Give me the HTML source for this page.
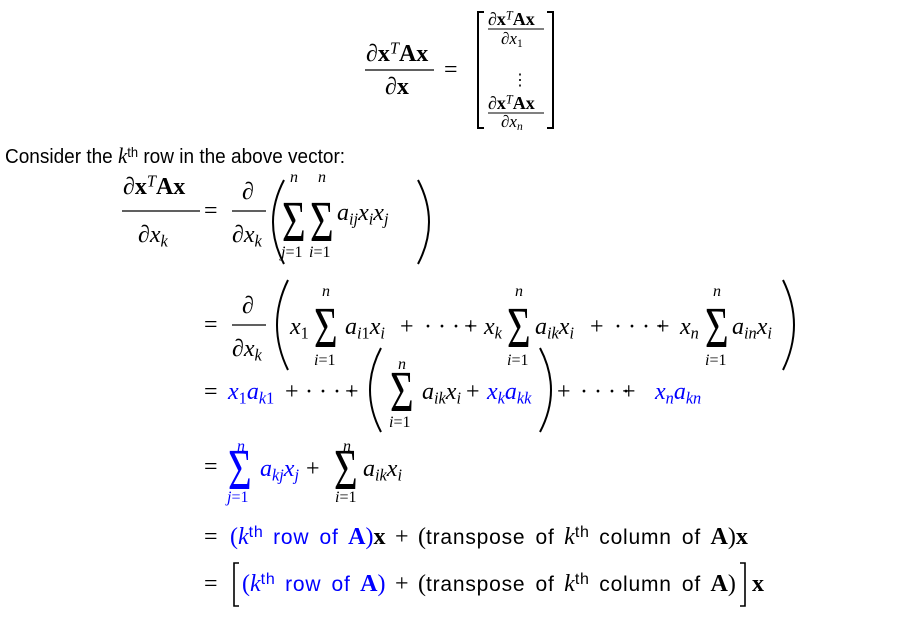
<!DOCTYPE html>
<html><head><meta charset="utf-8"><style>
body{margin:0;background:#fff;}
#page{position:relative;width:922px;height:618px;overflow:hidden;background:#fff;font-family:"Liberation Serif",serif;color:#000;}
.a{position:absolute;line-height:1;white-space:nowrap;top:calc(var(--b) - 0.84em);font-size:24px;}
.i{font-style:italic;}
.bf{font-weight:bold;font-style:normal;}
.s{font-family:"Liberation Sans","DejaVu Sans",sans-serif;font-size:21px;font-style:normal;letter-spacing:0.8px;}
.bl{color:#0000ff;}
sub,sup{font-size:0.68em;line-height:0;}
sub{vertical-align:-0.28em;}
sup{vertical-align:0.45em;}
.sig{font-size:58px;transform:scaleX(0.7);transform-origin:left center;}
.lim{font-size:16px;font-style:italic;}
.th{font-family:"Liberation Sans",sans-serif;font-size:16px;letter-spacing:0.8px;font-style:normal;}
.flow{word-spacing:3.5px;}
svg{position:absolute;left:0;top:0;}
</style></head><body>
<div id="page">
<svg width="922" height="618" fill="none" stroke="#000">
 <line x1="365" y1="70" x2="434" y2="70" stroke-width="1.3"/>
 <path d="M484 12 H478 V128 H484" stroke-width="2"/>
 <path d="M547 12 H553 V128 H547" stroke-width="2"/>
 <line x1="488" y1="29" x2="544" y2="29" stroke-width="1"/>
 <line x1="488" y1="113" x2="544" y2="113" stroke-width="1"/>
 <line x1="122" y1="211" x2="200" y2="211" stroke-width="1.3"/>
 <line x1="232" y1="211" x2="266" y2="211" stroke-width="1.3"/>
 <path d="M284 180 Q262 222 284 264" stroke-width="2"/>
 <path d="M418 180 Q440 222 418 264" stroke-width="2"/>
 <line x1="232" y1="325" x2="266" y2="325" stroke-width="1.3"/>
 <path d="M288 280 Q266 325 288 370" stroke-width="2"/>
 <path d="M783 280 Q805 325 783 370" stroke-width="2"/>
 <path d="M381 348 Q359 390 381 432" stroke-width="2"/>
 <path d="M540 348 Q562 390 540 432" stroke-width="2"/>
 <path d="M239 563 H234 V606 H239" stroke-width="1.6"/>
 <path d="M740 563 H745 V606 H740" stroke-width="1.6"/>
</svg>

<!-- top equation -->
<div class="a" style="left:366px;--b:62px">∂<span class="bf">x</span><sup class="i">T</sup><span class="bf">Ax</span></div>
<div class="a" style="left:385px;--b:95px">∂<span class="bf">x</span></div>
<div class="a" style="left:444px;--b:78px">=</div>
<div class="a" style="left:488px;--b:25px;font-size:18px">∂<span class="bf">x</span><sup class="i">T</sup><span class="bf">Ax</span></div>
<div class="a i" style="left:501px;--b:44px;font-size:17px">∂x<sub style="font-style:normal">1</sub></div>
<div class="a" style="left:512px;--b:86px;font-size:16px">⋮</div>
<div class="a" style="left:488px;--b:109px;font-size:18px">∂<span class="bf">x</span><sup class="i">T</sup><span class="bf">Ax</span></div>
<div class="a i" style="left:501px;--b:127px;font-size:17px">∂x<sub>n</sub></div>

<div class="a s" style="left:5px;--b:162px;font-size:20px;letter-spacing:0;transform:scaleX(0.95);transform-origin:left">Consider the <span class="i" style="font-family:'Liberation Serif',serif;font-size:22px">k</span><sup>th</sup> row in the above vector:</div>

<!-- row 1 -->
<div class="a" style="left:123px;--b:195px">∂<span class="bf">x</span><sup class="i">T</sup><span class="bf">Ax</span></div>
<div class="a i" style="left:138px;--b:243px">∂x<sub>k</sub></div>
<div class="a" style="left:204px;--b:219px">=</div>
<div class="a" style="left:242px;--b:200px">∂</div>
<div class="a i" style="left:232px;--b:243px">∂x<sub>k</sub></div>
<div class="a sig" style="left:282px;--b:242px">Σ</div>
<div class="a lim" style="left:290px;--b:183px">n</div>
<div class="a lim" style="left:281px;--b:258px">j<span style="font-style:normal">=1</span></div>
<div class="a sig" style="left:310px;--b:242px">Σ</div>
<div class="a lim" style="left:318px;--b:183px">n</div>
<div class="a lim" style="left:309px;--b:258px">i<span style="font-style:normal">=1</span></div>
<div class="a i" style="left:337px;--b:221px">a<sub>ij</sub>x<sub>i</sub>x<sub>j</sub></div>

<!-- row 2 -->
<div class="a" style="left:204px;--b:333px">=</div>
<div class="a" style="left:242px;--b:314px">∂</div>
<div class="a i" style="left:232px;--b:357px">∂x<sub>k</sub></div>
<div class="a i" style="left:290px;--b:335px">x<sub style="font-style:normal">1</sub></div>
<div class="a sig" style="left:314px;--b:348px">Σ</div>
<div class="a lim" style="left:322px;--b:297px">n</div>
<div class="a lim" style="left:314px;--b:366px">i<span style="font-style:normal">=1</span></div>
<div class="a i" style="left:345px;--b:335px">a<sub>i<span style="font-style:normal">1</span></sub>x<sub>i</sub></div>
<div class="a" style="left:400px;--b:335px">+</div>
<div class="a" style="left:424px;--b:335px">· · · ·</div>
<div class="a" style="left:464px;--b:335px">+</div>
<div class="a i" style="left:484px;--b:335px">x<sub>k</sub></div>
<div class="a sig" style="left:507px;--b:348px">Σ</div>
<div class="a lim" style="left:515px;--b:297px">n</div>
<div class="a lim" style="left:507px;--b:366px">i<span style="font-style:normal">=1</span></div>
<div class="a i" style="left:535px;--b:335px">a<sub>ik</sub>x<sub>i</sub></div>
<div class="a" style="left:590px;--b:335px">+</div>
<div class="a" style="left:614px;--b:335px">· · · ·</div>
<div class="a" style="left:656px;--b:335px">+</div>
<div class="a i" style="left:680px;--b:335px">x<sub>n</sub></div>
<div class="a sig" style="left:705px;--b:348px">Σ</div>
<div class="a lim" style="left:713px;--b:297px">n</div>
<div class="a lim" style="left:705px;--b:366px">i<span style="font-style:normal">=1</span></div>
<div class="a i" style="left:732px;--b:335px">a<sub>in</sub>x<sub>i</sub></div>

<!-- row 3 -->
<div class="a" style="left:204px;--b:400px">=</div>
<div class="a i bl" style="left:228px;--b:400px">x<sub style="font-style:normal">1</sub>a<sub>k<span style="font-style:normal">1</span></sub></div>
<div class="a" style="left:285px;--b:400px">+</div>
<div class="a" style="left:305px;--b:400px">· · · ·</div>
<div class="a" style="left:345px;--b:400px">+</div>
<div class="a sig" style="left:390px;--b:412px">Σ</div>
<div class="a lim" style="left:398px;--b:370px">n</div>
<div class="a lim" style="left:389px;--b:428px">i<span style="font-style:normal">=1</span></div>
<div class="a i" style="left:422px;--b:400px">a<sub>ik</sub>x<sub>i</sub></div>
<div class="a" style="left:466px;--b:400px">+</div>
<div class="a i bl" style="left:487px;--b:400px">x<sub>k</sub>a<sub>kk</sub></div>
<div class="a" style="left:557px;--b:400px">+</div>
<div class="a" style="left:580px;--b:400px">· · · ·</div>
<div class="a" style="left:622px;--b:400px">+</div>
<div class="a i bl" style="left:655px;--b:400px">x<sub>n</sub>a<sub>kn</sub></div>

<!-- row 4 -->
<div class="a" style="left:204px;--b:475px">=</div>
<div class="a sig bl" style="left:228px;--b:490px">Σ</div>
<div class="a lim bl" style="left:237px;--b:452px">n</div>
<div class="a lim bl" style="left:227px;--b:503px">j<span style="font-style:normal">=1</span></div>
<div class="a i bl" style="left:260px;--b:477px">a<sub>kj</sub>x<sub>j</sub></div>
<div class="a" style="left:306px;--b:477px">+</div>
<div class="a sig" style="left:334px;--b:490px">Σ</div>
<div class="a lim" style="left:343px;--b:452px">n</div>
<div class="a lim" style="left:335px;--b:503px">i<span style="font-style:normal">=1</span></div>
<div class="a i" style="left:363px;--b:477px">a<sub>ik</sub>x<sub>i</sub></div>

<!-- row 5 -->
<div class="a" style="left:204px;--b:545px">=</div>
<div class="a flow" style="left:230px;--b:545px"><span class="bl">(<span class="i">k</span><sup class="th">th</sup> <span class="s">row of</span> <span class="bf">A</span>)</span><span class="bf">x</span> + (<span class="s">transpose of</span> <span class="i">k</span><sup class="th">th</sup> <span class="s">column of</span> <span class="bf">A</span>)<span class="bf">x</span></div>

<!-- row 6 -->
<div class="a" style="left:204px;--b:592px">=</div>
<div class="a flow" style="left:242px;--b:592px"><span class="bl">(<span class="i">k</span><sup class="th">th</sup> <span class="s">row of</span> <span class="bf">A</span>)</span> + (<span class="s">transpose of</span> <span class="i">k</span><sup class="th">th</sup> <span class="s">column of</span> <span class="bf">A</span>)</div>
<div class="a bf" style="left:752px;--b:592px">x</div>
</div>
</body></html>
